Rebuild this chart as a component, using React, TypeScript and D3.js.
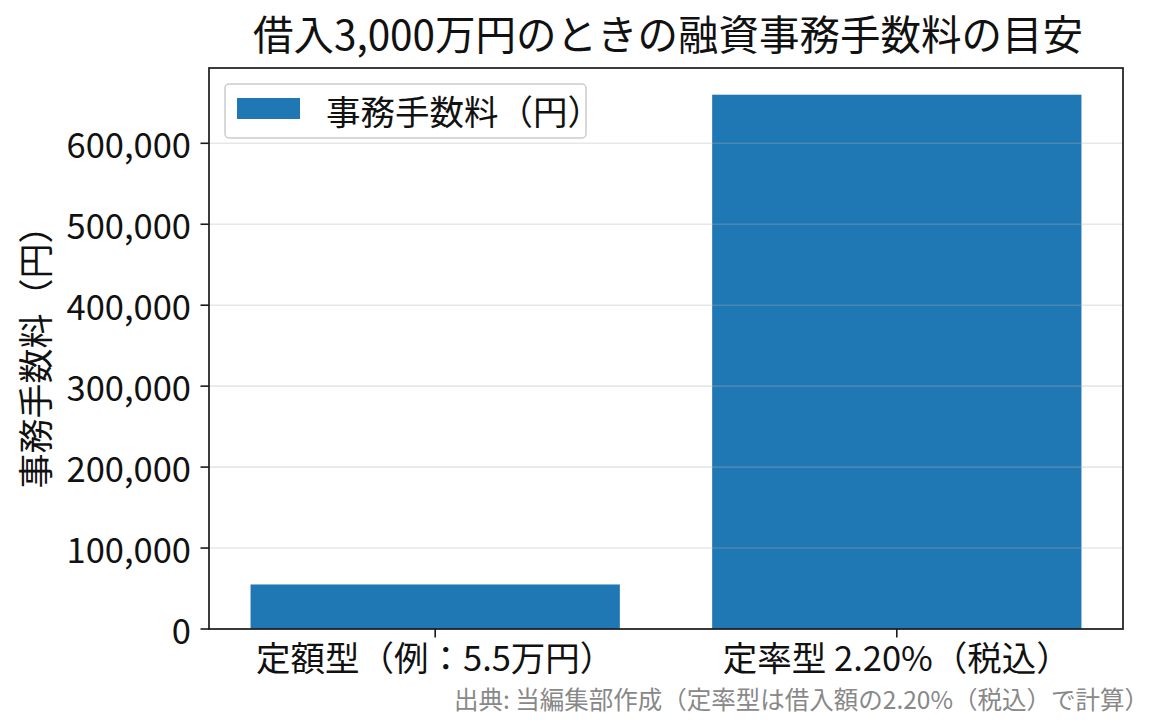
import React from "react";
import * as d3 from "d3";

const categories = ["定額型（例：5.5万円）", "定率型 2.20%（税込）"];
const fees = [55000, 660000];
const yTicks = [0, 100000, 200000, 300000, 400000, 500000, 600000];
const title = "借入3,000万円のときの融資事務手数料の目安";
const yLabel = "事務手数料（円）";
const legendLabel = "事務手数料（円）";
const footnote = "出典: 当編集部作成（定率型は借入額の2.20%（税込）で計算）";

const W = 1165;
const H = 725;
const M = { left: 209, right: 1123, top: 68, bottom: 629 };
const FONT = '"Noto Sans CJK JP", "Noto Sans", sans-serif';
const BLUE = "#1f77b4";

export default function App() {
  const x = d3
    .scaleBand<string>()
    .domain(categories)
    .range([M.left, M.right])
    .paddingInner(0.2)
    .paddingOuter(0.09);
  const y = d3
    .scaleLinear()
    .domain([0, d3.max(fees)! * 1.05])
    .range([M.bottom, M.top]);
  const fmt = d3.format(",");

  return (
    <div style={{ position: "fixed", left: 0, top: 0, width: W, height: H, background: "#fff" }}>
      <svg width={W} height={H} style={{ display: "block", fontFamily: FONT }}>
        <rect x={0} y={0} width={W} height={H} fill="#fff" />
        {/* bars */}
        {categories.map((c, i) => (
          <rect
            key={c}
            x={x(c)}
            y={y(fees[i])}
            width={x.bandwidth()}
            height={y(0) - y(fees[i])}
            fill={BLUE}
          />
        ))}
        {/* grid over bars */}
        {yTicks.map((t) => (
          <line
            key={"g" + t}
            x1={M.left}
            x2={M.right}
            y1={y(t)}
            y2={y(t)}
            stroke="#b0b0b0"
            strokeOpacity={0.3}
            strokeWidth={1.6}
          />
        ))}
        {/* spines */}
        <rect
          x={M.left}
          y={M.top}
          width={M.right - M.left}
          height={M.bottom - M.top}
          fill="none"
          stroke="#1a1a1a"
          strokeWidth={1.7}
        />
        {/* y ticks */}
        {yTicks.map((t) => (
          <g key={"t" + t}>
            <line x1={M.left - 8.5} x2={M.left} y1={y(t)} y2={y(t)} stroke="#1a1a1a" strokeWidth={1.6} />
            <text
              x={M.left - 18}
              y={y(t)}
              textAnchor="end"
              dominantBaseline="central"
              fontSize={34.5}
              fill="#111"
            >
              {fmt(t)}
            </text>
          </g>
        ))}
        {/* x ticks */}
        {categories.map((c) => {
          const cx = x(c)! + x.bandwidth() / 2;
          return (
            <g key={"x" + c}>
              <line x1={cx} x2={cx} y1={M.bottom} y2={M.bottom + 8.5} stroke="#1a1a1a" strokeWidth={1.6} />
              <text x={cx} y={656} textAnchor="middle" dominantBaseline="central" fontSize={34.5} fill="#111">
                {c}
              </text>
            </g>
          );
        })}
        {/* y label */}
        <text
          transform={`translate(33,${(M.top + M.bottom) / 2}) rotate(-90)`}
          textAnchor="middle"
          dominantBaseline="central"
          fontSize={35}
          fill="#111"
        >
          {yLabel}
        </text>
        {/* title */}
        <text x={(M.left + M.right) / 2 + 2} y={32} textAnchor="middle" dominantBaseline="central" fontSize={40.5} fill="#111">
          {title}
        </text>
        {/* legend */}
        <g>
          <rect x={225} y={84} width={361} height={54} rx={4} fill="#fff" fillOpacity={0.8} stroke="#cccccc" strokeWidth={1.5} />
          <rect x={237} y={98} width={63} height={21} fill={BLUE} />
          <text x={326} y={110} dominantBaseline="central" fontSize={34.5} fill="#111">
            {legendLabel}
          </text>
        </g>
        {/* footnote */}
        <text x={1149} y={698} textAnchor="end" dominantBaseline="central" fontSize={24.5} fill="#888">
          {footnote}
        </text>
      </svg>
    </div>
  );
}
